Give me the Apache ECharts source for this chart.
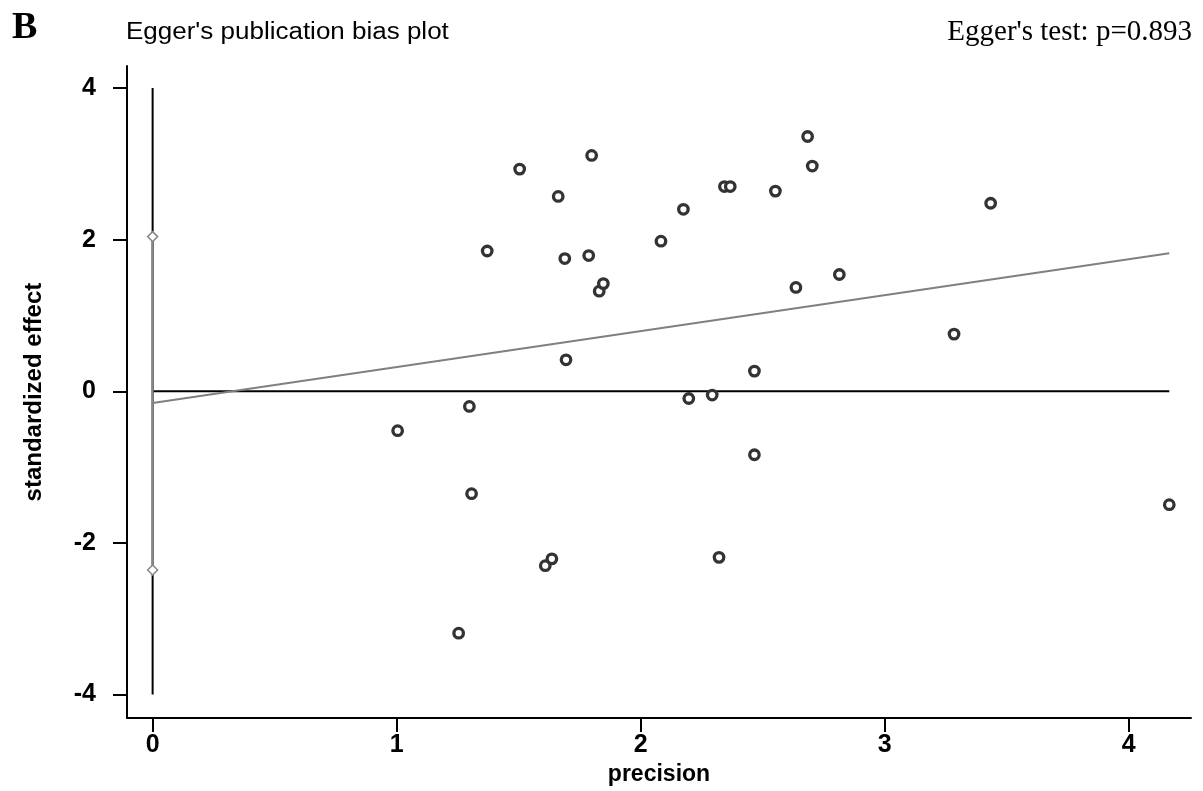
<!DOCTYPE html>
<html>
<head>
<meta charset="utf-8">
<script src="https://cdn.jsdelivr.net/npm/echarts@6/dist/echarts.min.js"></script>
<style>
html,body{margin:0;padding:0;background:#fff;}
#chart{width:1203px;height:791px;}
</style>
</head>
<body>
<div id="chart"></div>
<script>
// ---- data ----
const precision = [1.004,1.254,1.298,1.307,1.371,1.504,1.609,1.636,1.662,1.689,1.694,1.787,1.799,1.830,1.847,2.083,2.175,2.197,2.293,2.321,2.343,2.367,2.466,2.466,2.552,2.636,2.684,2.703,2.814,3.284,3.434,4.166];
const stdEffect = [-0.52,-3.19,-0.20,-1.35,1.85,2.93,-2.30,-2.21,2.57,1.75,0.415,1.79,3.11,1.32,1.42,1.98,2.40,-0.095,-0.05,-2.19,2.70,2.70,0.266,-0.837,2.64,1.37,3.36,2.97,1.54,0.754,2.48,-1.495];
const regLineX = [0, 4.166];
const regLineY = [-0.155, 1.82];
const zeroLineX = [0, 4.166];
const zeroLineY = [0, 0];
const axisSpanY = [-4, 4];
const interceptCI = [-2.356, 2.04];
const xTicks = [0, 1, 2, 3, 4];
const yTicks = [-4, -2, 0, 2, 4];
const panelLabel = 'B';
const plotTitle = "Egger's publication bias plot";
const testText = "Egger's test: p=0.893";

const chart = echarts.init(document.getElementById('chart'), null, {renderer: 'canvas'});
const sans = '"Liberation Sans", Arial, Helvetica, sans-serif';
const serif = '"Liberation Serif", "Times New Roman", serif';

const zip = (xs, ys) => xs.map((x, i) => [x, ys[i]]);

chart.setOption({
  animation: false,
  backgroundColor: '#fff',
  grid: {left: 127, right: 12, top: 66, bottom: 72, containLabel: false},
  xAxis: {
    type: 'value', min: -0.105, max: 4.255,
    name: 'precision', nameLocation: 'middle', nameGap: 44,
    nameTextStyle: {fontFamily: sans, fontSize: 23, fontWeight: 'bold', color: '#000'},
    axisLine: {onZero: false, lineStyle: {color: '#000', width: 2}},
    axisTick: {customValues: xTicks, length: 14, lineStyle: {color: '#000', width: 2}},
    axisLabel: {customValues: xTicks, margin: 15, fontFamily: sans, fontSize: 25, fontWeight: 'bold', color: '#000'},
    splitLine: {show: false}
  },
  yAxis: {
    type: 'value', min: -4.31, max: 4.29,
    name: 'standardized effect', nameLocation: 'middle', nameGap: 81,
    nameTextStyle: {fontFamily: sans, fontSize: 24, fontWeight: 'bold', color: '#000'},
    axisLine: {onZero: false, lineStyle: {color: '#000', width: 2}},
    axisTick: {customValues: yTicks, length: 14, lineStyle: {color: '#000', width: 2}},
    axisLabel: {customValues: yTicks, margin: 31, fontFamily: sans, fontSize: 25, fontWeight: 'bold', color: '#000'},
    splitLine: {show: false}
  },
  graphic: [
    {type: 'text', left: 12, top: 9, style: {text: panelLabel, font: 'bold 38px ' + serif, fill: '#000'}},
    {type: 'text', x: 126, y: 21, scaleX: 1.13, style: {text: plotTitle, font: '23px ' + sans, fill: '#000'}},
    {type: 'text', x: 1192, y: 18, style: {text: testText, font: '29px ' + serif, fill: '#000', textAlign: 'right'}}
  ],
  series: [
    {type: 'line', data: zip([0, 0], axisSpanY), symbol: 'none', lineStyle: {color: '#000', width: 2}, z: 2},
    {type: 'line', data: zip([0, 0], interceptCI), symbol: 'diamond', symbolSize: 10, showAllSymbol: true,
      itemStyle: {color: '#fff', borderColor: '#888', borderWidth: 1.5}, lineStyle: {color: '#888', width: 2}, z: 3},
    {type: 'line', data: zip(zeroLineX, zeroLineY), symbol: 'none', lineStyle: {color: '#000', width: 2}, z: 2},
    {type: 'line', data: zip(regLineX, regLineY), symbol: 'none', lineStyle: {color: '#808080', width: 2}, z: 2},
    {type: 'scatter', data: zip(precision, stdEffect), symbol: 'circle', symbolSize: 9.5,
      itemStyle: {color: '#fff', borderColor: '#333', borderWidth: 3.3, opacity: 1}, z: 4}
  ]
});
</script>
</body>
</html>
